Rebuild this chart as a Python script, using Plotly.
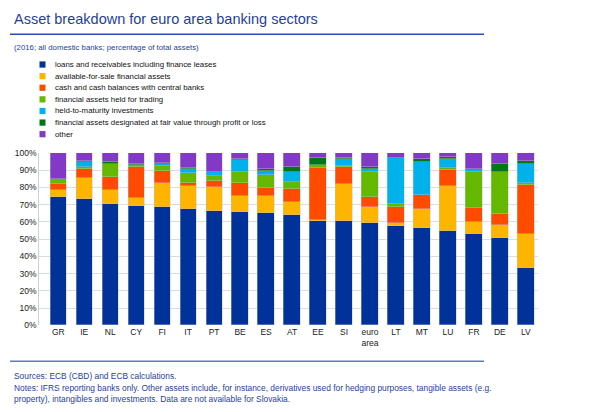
import plotly.graph_objects as go

W, H = 593, 412

countries = ["GR", "IE", "NL", "CY", "FI", "IT", "PT", "BE", "ES", "AT", "EE", "SI",
             "euro<br>area", "LT", "MT", "LU", "FR", "DE", "LV"]

loans =   [74.5, 73.2, 70.2, 69.4, 68.9, 67.3, 66.4, 65.5, 65.1, 63.8, 60.8, 60.3, 59.4, 57.9, 56.6, 54.7, 53.0, 50.9, 33.0]
afs =     [4.2, 12.3, 8.6, 4.2, 13.6, 13.4, 13.8, 9.4, 9.8, 7.9, 0.3, 21.8, 9.1, 1.2, 10.8, 26.4, 7.0, 7.6, 19.8]
cash =    [3.4, 5.4, 7.0, 18.4, 7.1, 1.7, 3.4, 7.6, 4.9, 7.5, 30.4, 9.6, 6.0, 9.4, 8.1, 9.1, 7.8, 6.1, 28.9]
trading = [2.8, 1.2, 7.6, 0.8, 2.9, 6.2, 2.8, 6.7, 7.4, 4.2, 1.5, 0.5, 14.4, 1.9, 0.3, 1.3, 21.2, 24.2, 0.9]
htm =     [0.0, 2.4, 0.2, 0.3, 1.0, 1.9, 2.3, 6.8, 2.4, 5.7, 0.0, 4.6, 1.8, 26.8, 19.1, 5.3, 1.0, 0.3, 11.2]
fv =      [0.2, 0.7, 1.3, 0.3, 0.5, 1.0, 0.2, 0.5, 0.9, 3.0, 4.3, 0.2, 1.3, 0.0, 1.9, 0.7, 0.6, 4.4, 1.5]
other =   [14.9, 4.8, 5.1, 6.6, 6.0, 8.5, 11.3, 3.5, 9.5, 7.9, 2.7, 3.0, 8.0, 2.8, 3.2, 2.5, 9.4, 6.5, 4.7]

series_names = ["loans and receivables including finance leases",
                "available-for-sale financial assets",
                "cash and cash balances with central banks",
                "financial assets held for trading",
                "held-to-maturity investments",
                "financial assets designated at fair value through profit or loss",
                "other"]
series_values = [loans, afs, cash, trading, htm, fv, other]
colors = ["#003299", "#FFB400", "#FF4B00", "#65B800", "#00B1EA", "#007816", "#8139C6"]

FONT = "Liberation Sans, Arial, sans-serif"
BLUE = "#1f3f9a"

fig = go.Figure()
for name, vals, col in zip(series_names, series_values, colors):
    fig.add_trace(go.Bar(
        x=list(range(len(countries))), y=vals, name=name,
        marker=dict(color=col, line=dict(color="rgba(190,190,200,0.7)", width=0.6)),
        width=0.64, showlegend=False,
    ))

def px_x(x):
    return x / W

def px_y(y):
    return 1 - y / H

plot_l, plot_r, plot_t, plot_b = 39.3, 538.3, 151.7, 328.3
fig.update_layout(
    width=W, height=H,
    margin=dict(l=0, r=0, t=0, b=0),
    paper_bgcolor="white", plot_bgcolor="white",
    barmode="stack",
    font=dict(family=FONT, size=8.5, color="#222222"),
    xaxis=dict(
        domain=[px_x(plot_l), px_x(plot_r)],
        range=[-0.73, 18.48],
        tickmode="array", tickvals=list(range(len(countries))), ticktext=countries,
        showgrid=False, showline=False, ticks="", zeroline=False,
        tickfont=dict(size=8.5, color="#222222"),
    ),
    yaxis=dict(
        domain=[px_y(plot_b), px_y(plot_t)],
        range=[0, 100], dtick=10, ticksuffix="%",
        showgrid=True, gridcolor="#dcdcdc", gridwidth=1,
        showline=True, linecolor="#d0d0d0", linewidth=1,
        zeroline=False, ticks="",
        tickfont=dict(size=8.5, color="#222222"),
    ),
    bargap=0,
)

annotations = []
shapes = []

# title
annotations.append(dict(x=px_x(12), y=px_y(14), xref="paper", yref="paper",
                        text="Asset breakdown for euro area banking sectors",
                        showarrow=False, xanchor="left", yanchor="middle",
                        font=dict(size=14.5, color=BLUE, family=FONT)))
shapes.append(dict(type="line", xref="paper", yref="paper",
                   x0=px_x(10), x1=px_x(484), y0=px_y(30), y1=px_y(30),
                   line=dict(color="#2a4fb0", width=1.5)))
annotations.append(dict(x=px_x(12), y=px_y(44), xref="paper", yref="paper",
                        text="(2016; all domestic banks; percentage of total assets)",
                        showarrow=False, xanchor="left", yanchor="middle",
                        font=dict(size=7.8, color=BLUE, family=FONT)))

# legend
row_y0, row_dy = 61, 11.9
for i, (name, col) in enumerate(zip(series_names, colors)):
    yc = row_y0 + i * row_dy
    shapes.append(dict(type="rect", xref="paper", yref="paper",
                       x0=px_x(39.5), x1=px_x(45.5), y0=px_y(yc - 3.2), y1=px_y(yc + 3.2),
                       fillcolor=col, line=dict(width=0)))
    annotations.append(dict(x=px_x(52.5), y=px_y(yc), xref="paper", yref="paper",
                            text=name, showarrow=False, xanchor="left", yanchor="middle",
                            font=dict(size=7.85, color="#111111", family=FONT)))

# bottom line and notes
shapes.append(dict(type="line", xref="paper", yref="paper",
                   x0=px_x(10), x1=px_x(484), y0=px_y(365), y1=px_y(365),
                   line=dict(color="#5a7bc8", width=1.5)))
notes = [
    (380, "Sources: ECB (CBD) and ECB calculations."),
    (392.5, "Notes: IFRS reporting banks only. Other assets include, for instance, derivatives used for hedging purposes, tangible assets (e.g."),
    (404, "property), intangibles and investments. Data are not available for Slovakia."),
]
for yy, txt in notes:
    annotations.append(dict(x=px_x(12), y=px_y(yy), xref="paper", yref="paper",
                            text=txt, showarrow=False, xanchor="left", yanchor="middle",
                            font=dict(size=8.4, color=BLUE, family=FONT)))

fig.update_layout(annotations=annotations, shapes=shapes)
fig.write_html("out.html",
               config={"displayModeBar": False},
               post_script="document.body.style.margin='0';document.body.style.padding='0';")
